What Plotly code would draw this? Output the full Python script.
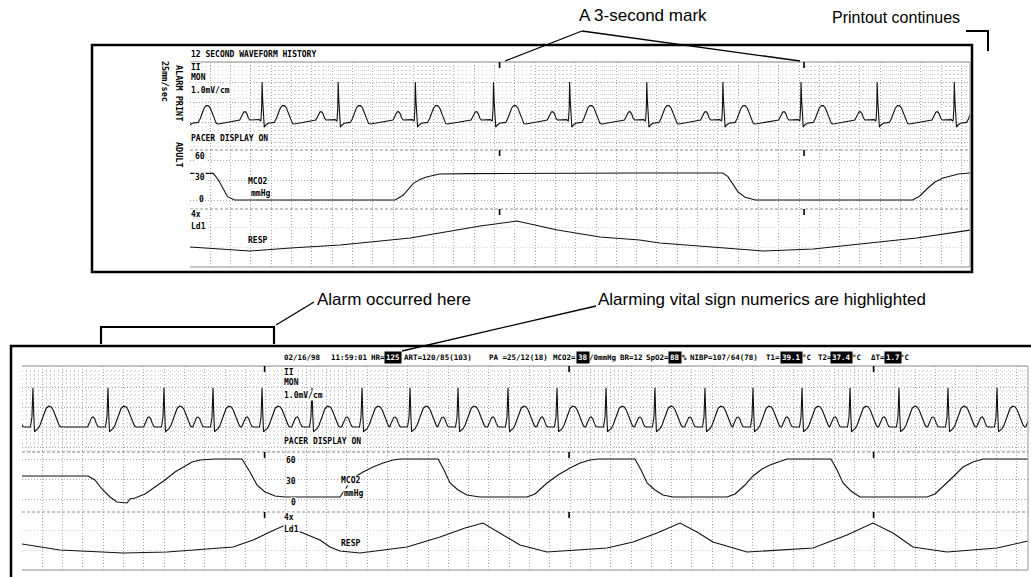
import plotly.graph_objects as go

W, H = 1031, 577
PX_PER_S = 101.5          # 25 mm/s recorder speed at this scale
MONO = "DejaVu Sans Mono, Liberation Mono, monospace"
CALLOUT = "Liberation Sans Narrow, Liberation Sans, Arial, sans-serif"

# ---------------------------------------------------------------- data
# Upper printout: 12 second waveform history (seconds from strip start)
top_r_times = [-0.04, 0.71, 1.46, 2.22, 2.99, 3.74, 4.50, 5.25, 6.02, 6.77, 7.53]
top_beat_offsets = [-0.22, -0.21, -0.195, -0.18, -0.165, -0.15, -0.135, -0.12, -0.03,
                    -0.012, -0.004, 0.0, 0.006, 0.014, 0.022, 0.035, 0.06, 0.12, 0.14,
                    0.16, 0.18, 0.20, 0.22, 0.24, 0.26, 0.28, 0.30, 0.32]
top_beat_mv = [0.05, 0.10, 0.19, 0.25, 0.26, 0.21, 0.10, 0.05, 0.06,
               0.02, 0.35, 1.0, 0.55, -0.05, -0.13, -0.08, -0.03, -0.01, 0.08,
               0.22, 0.35, 0.41, 0.41, 0.35, 0.22, 0.06, -0.04, -0.05]
top_co2_t = [0.00, 0.23, 0.28, 0.33, 0.37, 0.44, 2.02, 2.10, 2.20, 2.27, 2.34, 2.46,
             2.76, 4.43, 5.25, 5.30, 5.35, 5.40, 5.47, 5.57, 7.12, 7.19, 7.27, 7.34,
             7.42, 7.49, 7.57, 7.69]
top_co2_mmhg = [40, 40, 30, 15, 5, 0, 0, 7, 25, 31, 35, 39,
                39.5, 40.5, 40.5, 35, 23, 12, 4, 0, 0, 6, 18, 27,
                33, 36, 39, 40.5]
top_resp_t = [0.0, 0.42, 0.59, 0.99, 1.48, 2.17, 2.53, 2.86, 3.22, 3.62, 4.04, 4.43,
              4.63, 5.22, 5.65, 6.14, 6.67, 7.16, 7.69]
top_resp = [20, 17, 16, 19, 22, 29, 35, 41, 46, 37, 30, 27,
            24, 19, 16, 18, 24, 29, 37]
top_marks_s = [3.05, 6.05]

# Lower printout: alarm recording
bot_r_times = [0.108, 0.847, 1.399, 1.882, 2.365, 2.857, 3.350, 3.823, 4.296, 4.788,
               5.271, 5.754, 6.236, 6.729, 7.202, 7.685, 8.158, 8.640, 9.123, 9.606,
               10.09]
bot_beat_offsets = [-0.20, -0.19, -0.175, -0.16, -0.145, -0.13, -0.115, -0.10, -0.08,
                    -0.025, -0.01, 0.0, 0.007, 0.015, 0.03, 0.05, 0.07, 0.09, 0.11,
                    0.13, 0.155, 0.18, 0.20, 0.22, 0.24, 0.26, 0.275]
bot_beat_mv = [0.0, 0.07, 0.18, 0.24, 0.25, 0.20, 0.09, 0.01, 0.0,
               0.0, 0.25, 0.98, 0.35, -0.12, -0.08, -0.04, 0.05, 0.20, 0.36,
               0.47, 0.52, 0.50, 0.42, 0.28, 0.12, 0.03, 0.0]
bot_co2_t = [0.000, 0.650, 0.719, 0.788, 0.867, 0.936, 1.034, 1.064, 1.113, 1.212,
             1.310, 1.409, 1.507, 1.586, 1.675, 1.754, 1.901, 2.167, 2.246, 2.315,
             2.394, 2.493, 2.591, 3.133, 3.153, 3.212, 3.261, 3.360, 3.458, 3.557,
             3.655, 3.724, 4.099, 4.158, 4.217, 4.296, 4.384, 4.512, 4.975, 5.054,
             5.172, 5.281, 5.399, 5.498, 5.596, 5.675, 6.039, 6.099, 6.158, 6.236,
             6.315, 6.414, 6.946, 7.025, 7.123, 7.202, 7.291, 7.369, 7.537, 7.970,
             8.030, 8.089, 8.167, 8.256, 8.916, 8.995, 9.094, 9.172, 9.271, 9.369,
             9.468, 9.911]
bot_co2_mmhg = [34.5, 34.5, 28.5, 15, 3, -4.5, -6, 0, 1.5, 7.5,
                18, 28.5, 40.5, 48, 55.5, 58.5, 60, 60, 40.5, 21,
                10.5, 4.5, 3, 3, 7.5, 21, 31.5, 40.5, 48, 54,
                58.5, 60, 60, 43.5, 24, 13.5, 6, 3, 3, 7.5,
                24, 36, 46.5, 54, 58.5, 60, 60, 43.5, 24, 13.5,
                6, 3, 3, 7.5, 21, 34.5, 45, 51, 60, 60,
                43.5, 24, 12, 3, 3, 7.5, 21, 33, 48, 55.5,
                60, 60]
bot_resp_t = [0.000, 0.374, 0.995, 1.429, 2.079, 2.276, 2.443, 2.571, 2.768, 2.936,
              3.034, 3.133, 3.330, 3.793, 4.118, 4.365, 4.542, 4.709, 4.906, 5.172,
              5.764, 6.020, 6.256, 6.483, 6.650, 6.808, 7.143, 7.793, 8.128, 8.384,
              8.581, 8.778, 9.113, 9.606, 9.911]
bot_resp = [26, 20, 17, 18, 23, 30, 38, 44, 37, 30,
            23, 19, 17, 23, 33, 42, 47, 37, 25, 18,
            22, 28, 37, 47, 38, 28, 18, 22, 35, 47,
            37, 23, 18, 22, 29]
bot_marks_s = [2.39, 5.39, 8.39]

# Recorder header line of the alarm strip (value fields shown in reverse video)
header_fields = ["02/16/98", "11:59:01", "HR=", "125", "ART=120/85(103)", "PA =25/12(18)",
                 "MCO2=", "38", "/0mmHg", "BR=12", "SpO2=", "88", "%", "NIBP=107/64(78)",
                 "T1=", "39.1", "°C", "T2=", "37.4", "°C", "ΔT=", "1.7", "°C"]
header_alarm = [False, False, False, True, False, False,
                False, True, False, False, False, True, False, False,
                False, True, False, False, True, False, False, True, False]
header_x = [283, 330, 370, 384, 403, 488, 552, 576, 588, 619, 645, 668, 681, 689,
            765, 780, 801, 817, 830, 851, 870, 884, 899]


# ---------------------------------------------------------------- helpers
def px(x):
    return x / W


def py(y):
    return 1 - y / H


def beats(r_times, offsets, levels):
    xs, ys = [], []
    for r in r_times:
        xs.extend(r + o for o in offsets)
        ys.extend(levels)
    return xs, ys


def label(x, y, text, size=8, anchor="left", angle=0, bg="white", color="black",
          family=MONO, weight="bold", pad=0):
    return dict(x=px(x), y=py(y), xref="paper", yref="paper", text=text,
                showarrow=False, xanchor=anchor, yanchor="middle", textangle=angle,
                bgcolor=bg, borderpad=pad,
                font=dict(family=family, size=size, color=color, weight=weight))


GRID_MAJOR = "#a8a8a8"
GRID_MINOR = "#d2d2d2"

# panel geometry in pixels: left, right, and (top, bottom, y-range) per strip
panels = {
    "top": dict(x0=190, x1=970,
                ecg=(62, 150, [-0.7, 1.5]),
                co2=(150, 209, [-13.5, 75]),
                resp=(209, 267, [0, 58])),
    "bot": dict(x0=22, x1=1028,
                ecg=(366, 452, [-0.625, 1.525]),
                co2=(452, 512, [-19.5, 70.5]),
                resp=(512, 570, [0, 58])),
}

fig = go.Figure()
layout_axes = {}
shapes = []
annotations = []


def add_axes(n, panel, kind):
    p = panels[panel]
    top, bot, yr = p[kind]
    xname = "xaxis" if n == 1 else f"xaxis{n}"
    yname = "yaxis" if n == 1 else f"yaxis{n}"
    xa = dict(domain=[px(p["x0"]), px(p["x1"])],
              range=[0, (p["x1"] - p["x0"]) / PX_PER_S],
              anchor=f"y{'' if n == 1 else n}",
              showgrid=True, gridcolor=GRID_MAJOR, griddash="1px,2px", gridwidth=1,
              tick0=0, dtick=0.2, showticklabels=False, ticks="", zeroline=False,
              showline=False, fixedrange=True)
    ya = dict(domain=[py(bot), py(top)], range=yr,
              anchor=f"x{'' if n == 1 else n}",
              showticklabels=False, ticks="", zeroline=False, showline=False,
              fixedrange=True, gridcolor=GRID_MAJOR, griddash="1px,2px", gridwidth=1)
    if kind == "ecg":
        xa["minor"] = dict(dtick=0.04, showgrid=True, gridcolor=GRID_MINOR,
                           griddash="1px,3px", gridwidth=1)
        ya.update(showgrid=True, tick0=0, dtick=0.5,
                  minor=dict(dtick=0.1, showgrid=True, gridcolor=GRID_MINOR,
                             griddash="1px,3px", gridwidth=1))
    elif kind == "co2":
        ya.update(showgrid=True, tickmode="array", tickvals=[0, 30, 60])
    else:
        ya.update(showgrid=True, tickmode="array", tickvals=[20, 40],
                  gridcolor=GRID_MINOR)
    layout_axes[xname] = xa
    layout_axes[yname] = ya
    return (f"x{'' if n == 1 else n}", f"y{'' if n == 1 else n}")


ax = {}
for i, (panel, kind) in enumerate([("top", "ecg"), ("top", "co2"), ("top", "resp"),
                                   ("bot", "ecg"), ("bot", "co2"), ("bot", "resp")], 1):
    ax[(panel, kind)] = add_axes(i, panel, kind)

TRACE = dict(color="#111111", width=1.1)


def line(panel, kind, xs, ys):
    xr, yr = ax[(panel, kind)]
    fig.add_trace(go.Scatter(x=xs, y=ys, mode="lines", line=TRACE, xaxis=xr, yaxis=yr,
                             hoverinfo="skip", showlegend=False, cliponaxis=True))


# waveforms
ex, ey = beats(top_r_times, top_beat_offsets, top_beat_mv)
line("top", "ecg", ex, ey)
line("top", "co2", top_co2_t, top_co2_mmhg)
line("top", "resp", top_resp_t, top_resp)

ex, ey = beats(bot_r_times, bot_beat_offsets, bot_beat_mv)
line("bot", "ecg", ex, ey)
line("bot", "co2", bot_co2_t, bot_co2_mmhg)
line("bot", "resp", bot_resp_t, bot_resp)

# strip boundaries and 3-second marks
for panel, marks in (("top", top_marks_s), ("bot", bot_marks_s)):
    p = panels[panel]
    ys = [p["ecg"][0], p["co2"][0], p["resp"][0], p["resp"][1]]
    styles = ["solid", "3px,2px", "3px,2px", "solid"]
    for yv, dash in zip(ys, styles):
        shapes.append(dict(type="line", xref="paper", yref="paper",
                           x0=px(p["x0"]), x1=px(p["x1"]), y0=py(yv), y1=py(yv),
                           line=dict(color="#8c8c8c", width=1, dash=dash)))
    shapes.append(dict(type="line", xref="paper", yref="paper",
                       x0=px(p["x1"]), x1=px(p["x1"]), y0=py(ys[0]), y1=py(ys[3]),
                       line=dict(color="#9a9a9a", width=1)))
    xr = ax[(panel, "ecg")][0]
    for t in marks:
        for yv in ys[:3]:
            shapes.append(dict(type="line", xref=xr, yref="paper", x0=t, x1=t,
                               y0=py(yv), y1=py(yv + 6),
                               line=dict(color="black", width=1.6)))

# printout frames
shapes.append(dict(type="rect", xref="paper", yref="paper",
                   x0=px(92), x1=px(972), y0=py(45), y1=py(272),
                   line=dict(color="black", width=2.5)))
shapes.append(dict(type="rect", xref="paper", yref="paper",
                   x0=px(11), x1=px(1045), y0=py(346), y1=py(590),
                   line=dict(color="black", width=2.5)))


# callout leaders and brackets
def seg(x0, y0, x1, y1, w=1.3):
    shapes.append(dict(type="line", xref="paper", yref="paper",
                       x0=px(x0), y0=py(y0), x1=px(x1), y1=py(y1),
                       line=dict(color="black", width=w)))


seg(582, 31, 505, 61)
seg(582, 31, 800, 61)
seg(966, 31, 988, 31, 2)
seg(988, 30, 988, 51, 2)
seg(100, 327, 275, 327, 2.2)
seg(101, 326, 101, 344, 2.2)
seg(274, 326, 274, 344, 2.2)
seg(276, 325, 314, 302)
seg(596, 306, 402, 351)

annotations += [
    label(578, 16, "A 3-second mark", size=17, family=CALLOUT, weight="normal", bg=None),
    label(961, 18, "Printout continues", size=16, family=CALLOUT, weight="normal",
          bg=None, anchor="right"),
    label(316, 299, "Alarm occurred here", size=17, family=CALLOUT, weight="normal", bg=None),
    label(597, 299, "Alarming vital sign numerics are highlighted", size=17,
          family=CALLOUT, weight="normal", bg=None),
]

# upper printout text
annotations += [
    label(190, 55, "12 SECOND WAVEFORM HISTORY"),
    label(190, 67, "II"),
    label(190, 78, "MON"),
    label(190, 90, "1.0mV/cm"),
    label(190, 138, "PACER DISPLAY ON"),
    label(200, 157, "60", anchor="center"),
    label(200, 177, "30", anchor="center"),
    label(201, 200, "0", anchor="center"),
    label(247, 181, "MCO2"),
    label(250, 193, "mmHg"),
    label(190, 215, "4x"),
    label(190, 226, "Ld1"),
    label(247, 240, "RESP"),
    label(165, 81, "25mm/sec", size=8.5, angle=90, anchor="center", bg=None),
    label(179, 93, "ALARM PRINT", size=8.5, angle=90, anchor="center", bg=None),
    label(179, 155, "ADULT", size=8.5, angle=90, anchor="center", bg=None),
]

# lower printout text
for x, txt, alarm in zip(header_x, header_fields, header_alarm):
    annotations.append(label(x, 357, txt, size=7.5, bg="black" if alarm else None,
                             color="white" if alarm else "black", pad=1 if alarm else 0))
annotations += [
    label(283, 372, "II"),
    label(283, 383, "MON"),
    label(283, 395, "1.0mV/cm"),
    label(283, 441, "PACER DISPLAY ON"),
    label(291, 460, "60", anchor="center"),
    label(291, 482, "30", anchor="center"),
    label(293, 502, "0", anchor="center"),
    label(340, 480, "MCO2"),
    label(343, 493, "mmHg"),
    label(283, 517, "4x"),
    label(283, 529, "Ld1"),
    label(340, 543, "RESP"),
]

fig.update_layout(
    width=W, height=H, margin=dict(l=0, r=0, t=0, b=0),
    paper_bgcolor="white", plot_bgcolor="rgba(0,0,0,0)",
    showlegend=False, shapes=shapes, annotations=annotations,
    **layout_axes,
)

fig.write_html("out.html", include_plotlyjs=True, config={"displayModeBar": False})
